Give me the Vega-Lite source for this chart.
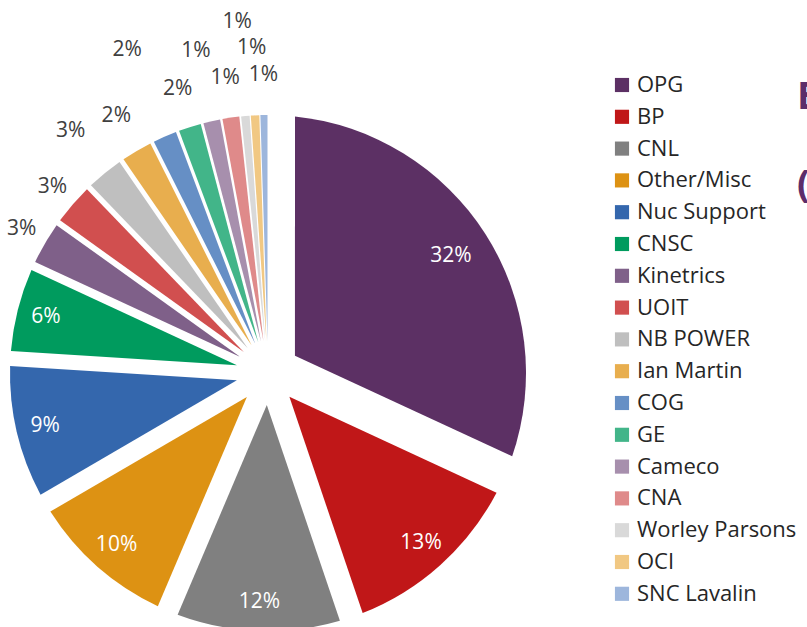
{
  "$schema": "https://vega.github.io/schema/vega-lite/v6.json",
  "width": 536,
  "height": 506,
  "autosize": {"type": "none"},
  "padding": {"left": 0, "top": 120, "right": 271, "bottom": 1},
  "background": "white",
  "config": {"view": {"stroke": null}, "font": "Open Sans"},
  "title": {
    "text": ["E", "("],
    "orient": "top",
    "anchor": "start",
    "frame": "group",
    "dx": 797,
    "dy": 195,
    "offset": 0,
    "fontSize": 38,
    "fontWeight": "bold",
    "color": "#5C2D6A",
    "font": "Open Sans",
    "lineHeight": 88,
    "baseline": "top"
  },
  "data": {
    "values": [
      {"rank": 1, "name": "OPG", "pct": 31.9, "label": "32%"},
      {"rank": 2, "name": "BP", "pct": 12.9, "label": "13%"},
      {"rank": 3, "name": "CNL", "pct": 11.6, "label": "12%"},
      {"rank": 4, "name": "Other/Misc", "pct": 10.2, "label": "10%"},
      {"rank": 5, "name": "Nuc Support", "pct": 9.4, "label": "9%"},
      {"rank": 6, "name": "CNSC", "pct": 5.9, "label": "6%"},
      {"rank": 7, "name": "Kinetrics", "pct": 3.0, "label": "3%"},
      {"rank": 8, "name": "UOIT", "pct": 2.9, "label": "3%"},
      {"rank": 9, "name": "NB POWER", "pct": 2.6, "label": "3%"},
      {"rank": 10, "name": "Ian Martin", "pct": 2.2, "label": "2%"},
      {"rank": 11, "name": "COG", "pct": 1.7, "label": "2%"},
      {"rank": 12, "name": "GE", "pct": 1.6, "label": "2%"},
      {"rank": 13, "name": "Cameco", "pct": 1.2, "label": "1%"},
      {"rank": 14, "name": "CNA", "pct": 1.2, "label": "1%"},
      {"rank": 15, "name": "Worley Parsons", "pct": 0.6, "label": "1%"},
      {"rank": 16, "name": "OCI", "pct": 0.6, "label": "1%"},
      {"rank": 17, "name": "SNC Lavalin", "pct": 0.5, "label": "1%"}
    ]
  },
  "encoding": {
    "theta": {"field": "pct", "type": "quantitative", "stack": true},
    "order": {"field": "rank", "type": "quantitative"}
  },
  "layer": [
    {
      "mark": {
        "type": "arc",
        "innerRadius": 32,
        "outerRadius": 258,
        "padAngle": {"expr": "2*asin(32.02*sin(datum.pct*PI/100)/sqrt(32*32+258*258))"}
      },
      "encoding": {
        "color": {
          "field": "name",
          "type": "nominal",
          "sort": ["OPG", "BP", "CNL", "Other/Misc", "Nuc Support", "CNSC", "Kinetrics", "UOIT", "NB POWER", "Ian Martin", "COG", "GE", "Cameco", "CNA", "Worley Parsons", "OCI", "SNC Lavalin"],
          "scale": {
            "domain": ["OPG", "BP", "CNL", "Other/Misc", "Nuc Support", "CNSC", "Kinetrics", "UOIT", "NB POWER", "Ian Martin", "COG", "GE", "Cameco", "CNA", "Worley Parsons", "OCI", "SNC Lavalin"],
            "range": ["#5C3064", "#C01718", "#808080", "#DD9213", "#3467AD", "#009B5E", "#7F6089", "#D14F4F", "#BFBFBF", "#E8AE4E", "#668FC5", "#42B589", "#A78FAD", "#DF8A8A", "#D9D9D9", "#F1C883", "#9DB6DC"]
          },
          "legend": {
            "orient": "none",
            "legendX": 611,
            "legendY": -46,
            "title": null,
            "symbolType": "square",
            "symbolSize": 200,
            "symbolStrokeWidth": 0,
            "labelFontSize": 22,
            "labelFont": "Open Sans",
            "labelColor": "#262626",
            "rowPadding": 9.8,
            "labelOffset": 4,
            "padding": 0
          }
        }
      }
    },
    {
      "mark": {"type": "text", "fontSize": 21, "font": "Open Sans", "radius": 217, "color": "#FFFFFF"},
      "encoding": {
        "text": {"condition": {"test": "datum.rank == 1", "field": "label", "type": "nominal"}, "value": ""}
      }
    },
    {
      "mark": {"type": "text", "fontSize": 21, "font": "Open Sans", "radius": 229, "color": "#FFFFFF"},
      "encoding": {
        "text": {"condition": {"test": "datum.rank >= 2 && datum.rank <= 6", "field": "label", "type": "nominal"}, "value": ""}
      }
    },
    {
      "mark": {"type": "text", "fontSize": 21, "font": "Open Sans", "radius": 285, "color": "#404040"},
      "encoding": {
        "text": {"condition": {"test": "datum.rank == 7 || datum.rank == 8", "field": "label", "type": "nominal"}, "value": ""}
      }
    },
    {
      "mark": {"type": "text", "fontSize": 21, "font": "Open Sans", "radius": 298, "color": "#404040"},
      "encoding": {
        "text": {"condition": {"test": "datum.rank == 10 || datum.rank == 12 || datum.rank == 14 || datum.rank == 17", "field": "label", "type": "nominal"}, "value": ""}
      }
    },
    {
      "mark": {"type": "text", "fontSize": 21, "font": "Open Sans", "radius": 312, "color": "#404040"},
      "encoding": {
        "text": {"condition": {"test": "datum.rank == 9", "field": "label", "type": "nominal"}, "value": ""}
      }
    },
    {
      "mark": {"type": "text", "fontSize": 21, "font": "Open Sans", "radius": 325, "color": "#404040"},
      "encoding": {
        "text": {"condition": {"test": "datum.rank == 16", "field": "label", "type": "nominal"}, "value": ""}
      }
    },
    {
      "mark": {"type": "text", "fontSize": 21, "font": "Open Sans", "radius": 330, "color": "#404040"},
      "encoding": {
        "text": {"condition": {"test": "datum.rank == 13", "field": "label", "type": "nominal"}, "value": ""}
      }
    },
    {
      "mark": {"type": "text", "fontSize": 21, "font": "Open Sans", "radius": 352, "color": "#404040"},
      "encoding": {
        "text": {"condition": {"test": "datum.rank == 11 || datum.rank == 15", "field": "label", "type": "nominal"}, "value": ""}
      }
    }
  ]
}
